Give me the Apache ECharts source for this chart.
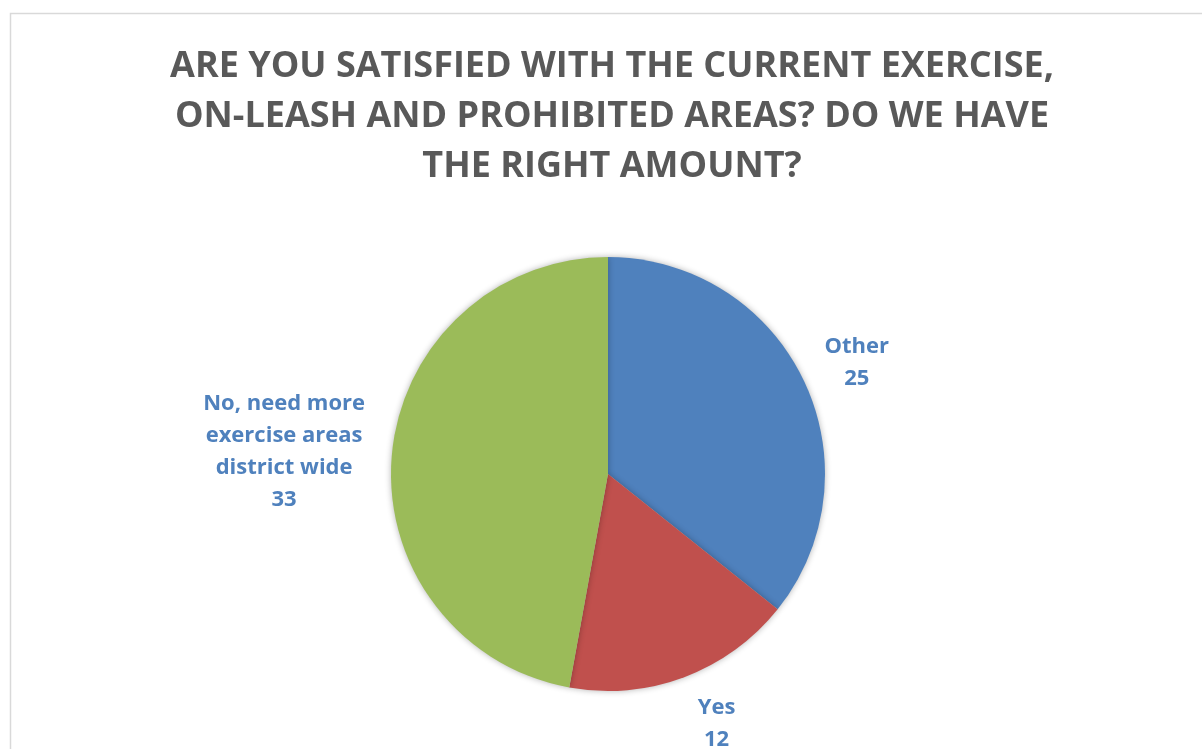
<!DOCTYPE html>
<html><head><meta charset="utf-8">
<script src="https://cdn.jsdelivr.net/npm/echarts@6/dist/echarts.min.js"></script>
<style>html,body{margin:0;padding:0;background:#fff}#c{width:1202px;height:749px}</style>
</head><body><div id="c"></div>
<script>
const titleText = 'ARE YOU SATISFIED WITH THE CURRENT EXERCISE,\nON-LEASH AND PROHIBITED AREAS? DO WE HAVE\nTHE RIGHT AMOUNT?';
const categories = ['Other', 'Yes', 'No, need more\nexercise areas\ndistrict wide'];
const values = [25, 12, 33];
const colors = ['#4f81bd', '#c0504d', '#9bbb59'];

// small label nudges (px) to mimic the reference's best-fit placement
const labelNudge = [[-11, -4], [-2, 18], [8, 0]];

const chart = echarts.init(document.getElementById('c'), null, {renderer: 'canvas'});
chart.setOption({
  animation: false,
  backgroundColor: '#fff',
  graphic: [{
    type: 'rect', shape: {x: 10.5, y: 13.5, width: 1200, height: 800},
    style: {fill: 'none', stroke: '#d9d9d9', lineWidth: 1.5}, z: -1
  }],
  title: {
    text: titleText, left: 607, top: 37, textAlign: 'center',
    textStyle: {fontFamily: 'Open Sans', fontWeight: 'bold', fontSize: 36, lineHeight: 50, color: '#595959'}
  },
  series: [{
    type: 'pie', center: [608, 474], radius: 217, startAngle: 90, clockwise: true,
    data: categories.map((c, i) => ({name: c, value: values[i], itemStyle: {color: colors[i]}})),
    itemStyle: {shadowBlur: 6, shadowColor: 'rgba(0,0,0,0.3)'},
    label: {
      show: true, position: 'outside', formatter: '{b}\n{c}',
      fontFamily: 'Open Sans', fontWeight: 'bold', fontSize: 22, lineHeight: 32, color: '#4f81bd'
    },
    labelLine: {show: false, length: 30, length2: 0},
    labelLayout: function (p) {
      const r = p.labelRect;
      const n = labelNudge[p.dataIndex];
      return {x: r.x + r.width / 2 + n[0], y: r.y + r.height / 2 + n[1], align: 'center', verticalAlign: 'middle'};
    }
  }]
});
</script></body></html>
